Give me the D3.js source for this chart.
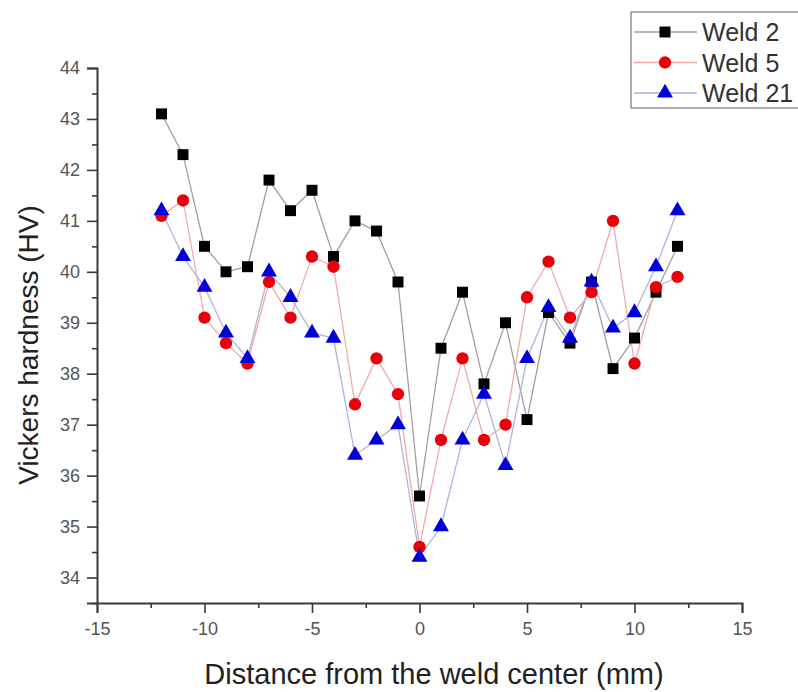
<!DOCTYPE html>
<html>
<head>
<meta charset="utf-8">
<script src="https://cdn.jsdelivr.net/npm/d3@7"></script>
<style>
  body { margin: 0; background: #fff; }
  svg { display: block; font-family: "Liberation Sans", Arial, sans-serif; }
</style>
</head>
<body>
<svg width="798" height="692"></svg>
<script>
// distances (mm) and hardness values
const distance = [-12, -11, -10, -9, -8, -7, -6, -5, -4, -3, -2, -1, 0, 1, 2, 3, 4, 5, 6, 7, 8, 9, 10, 11, 12];
const weld2  = [43.1, 42.3, 40.5, 40.0, 40.1, 41.8, 41.2, 41.6, 40.3, 41.0, 40.8, 39.8, 35.6, 38.5, 39.6, 37.8, 39.0, 37.1, 39.2, 38.6, 39.8, 38.1, 38.7, 39.6, 40.5];
const weld5  = [41.1, 41.4, 39.1, 38.6, 38.2, 39.8, 39.1, 40.3, 40.1, 37.4, 38.3, 37.6, 34.6, 36.7, 38.3, 36.7, 37.0, 39.5, 40.2, 39.1, 39.6, 41.0, 38.2, 39.7, 39.9];
const weld21 = [41.2, 40.3, 39.7, 38.8, 38.3, 40.0, 39.5, 38.8, 38.7, 36.4, 36.7, 37.0, 34.4, 35.0, 36.7, 37.6, 36.2, 38.3, 39.3, 38.7, 39.8, 38.9, 39.2, 40.1, 41.2];
const seriesNames = ["Weld 2", "Weld 5", "Weld 21"];
const xTicks = [-15, -10, -5, 0, 5, 10, 15];
const yTicks = [34, 35, 36, 37, 38, 39, 40, 41, 42, 43, 44];

const svg = d3.select("svg");

const x = d3.scaleLinear().domain([-15, 15]).range([97, 742]);
const y = d3.scaleLinear().domain([33.5, 44]).range([603, 68]);

const styles = [
  { fill: "#000", line: "#a0a0a0", symbol: d3.symbolSquare, size: 120 },
  { fill: "#e8000b", line: "#f0aaaa", symbol: d3.symbolCircle, size: 120 },
  { fill: "#0000d8", line: "#b0b3dc", symbol: d3.symbolTriangle, size: 110 }
];
const allSeries = [weld2, weld5, weld21];

// axes - plain hyphen for negatives like the original
const fmt = d => String(d);
const axisColor = "#3a3a3a";
const xAxis = svg.append("g").attr("transform", "translate(0,603)")
  .call(d3.axisBottom(x).tickValues(xTicks).tickSize(10).tickPadding(9).tickFormat(fmt));
const xMinor = svg.append("g").attr("transform", "translate(0,603)")
  .call(d3.axisBottom(x).tickValues([-12.5, -7.5, -2.5, 2.5, 7.5, 12.5]).tickSize(5).tickFormat(""));
const yAxis = svg.append("g").attr("transform", "translate(97,0)")
  .call(d3.axisLeft(y).tickValues(yTicks).tickSize(10).tickPadding(7).tickFormat(fmt));
const yMinor = svg.append("g").attr("transform", "translate(97,0)")
  .call(d3.axisLeft(y).tickValues(d3.range(33.5, 44, 1)).tickSize(5).tickFormat(""));

[xAxis, xMinor, yAxis, yMinor].forEach(g => {
  g.select(".domain").attr("stroke", axisColor).attr("stroke-width", 2);
  g.selectAll(".tick line").attr("stroke", axisColor).attr("stroke-width", 1.6);
  g.selectAll(".tick text").attr("fill", "#555").style("font-size", "18px");
});
xMinor.select(".domain").remove();
yMinor.select(".domain").remove();

// axis titles
svg.append("text")
  .attr("x", 434).attr("y", 684)
  .attr("text-anchor", "middle")
  .attr("fill", "#222")
  .style("font-size", "29px")
  .text("Distance from the weld center (mm)");

svg.append("text")
  .attr("transform", "translate(38,345) rotate(-90)")
  .attr("text-anchor", "middle")
  .attr("fill", "#222")
  .style("font-size", "28px")
  .text("Vickers hardness (HV)");

// lines then markers
const line = d3.line().x((d, i) => x(distance[i])).y(d => y(d));

allSeries.forEach((vals, k) => {
  svg.append("path")
    .datum(vals)
    .attr("fill", "none")
    .attr("stroke", styles[k].line)
    .attr("stroke-width", 1.3)
    .attr("d", line);
});

allSeries.forEach((vals, k) => {
  const sym = d3.symbol().type(styles[k].symbol).size(styles[k].size);
  svg.append("g").selectAll("path")
    .data(vals)
    .enter().append("path")
      .attr("d", sym)
      .attr("transform", (d, i) => `translate(${x(distance[i])},${y(d)})`)
      .attr("fill", styles[k].fill);
});

// legend
const legend = svg.append("g");
legend.append("rect")
  .attr("x", 631).attr("y", 12).attr("width", 180).attr("height", 96)
  .attr("fill", "#fff").attr("stroke", "#777").attr("stroke-width", 1.2);

const rows = legend.selectAll(".leg").data(seriesNames).enter().append("g")
  .attr("transform", (d, i) => `translate(0,${32 + i * 30.5})`);
rows.append("line")
  .attr("x1", 634).attr("x2", 697)
  .attr("stroke", (d, i) => styles[i].line).attr("stroke-width", 1.3);
rows.append("path")
  .attr("d", (d, i) => d3.symbol().type(styles[i].symbol).size(styles[i].size)())
  .attr("transform", "translate(665,0)")
  .attr("fill", (d, i) => styles[i].fill);
rows.append("text")
  .attr("x", 702).attr("y", 9)
  .attr("fill", "#333")
  .style("font-size", "25px")
  .text(d => d);
</script>
</body>
</html>
